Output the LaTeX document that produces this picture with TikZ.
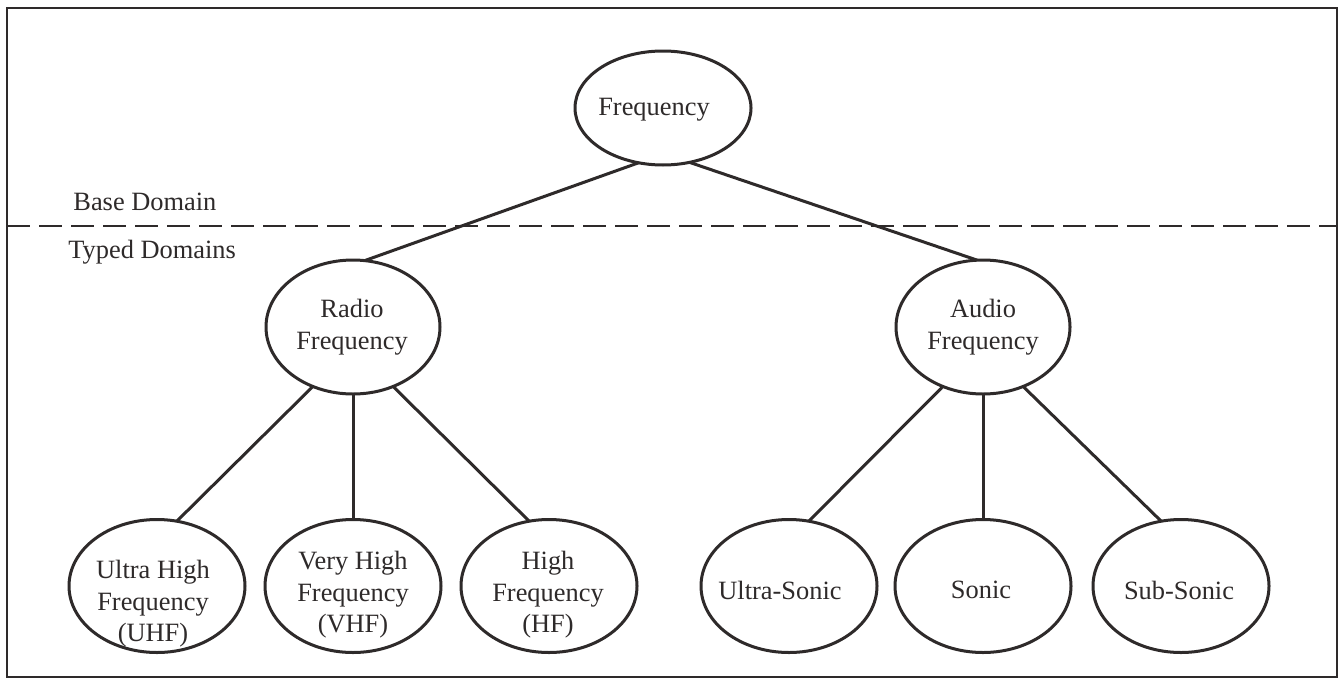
\documentclass[tikz,border=0pt]{standalone}
\usepackage{fontspec}
\setmainfont{Liberation Serif}
\usetikzlibrary{shapes.geometric}
\definecolor{ink}{HTML}{2E2A2A}
\begin{document}
\begin{tikzpicture}[x=0.5pt,y=-0.5pt,
  ell/.style={ellipse, draw=ink, line width=1.5pt, inner sep=0pt, outer sep=0pt,
              minimum width=88pt, minimum height=66.5pt},
  lbl/.style={inner sep=0pt, align=center, text=ink,
              font=\fontsize{13.2}{15.75}\selectfont},
  edge/.style={draw=ink, line width=1.5pt},
  frameline/.style={draw=ink, line width=1.1pt},
  sepline/.style={draw=ink, line width=1.4pt, dash pattern=on 11.5pt off 4.5pt}
]
\useasboundingbox (0,0) rectangle (1343,680);
\fill[white] (0,0) rectangle (1343,680);

% frame and separator
\draw[frameline] (7,8) rectangle (1337,677);
\coordinate (sepL) at (7,226);
\coordinate (sepR) at (1337,226);
\draw[sepline] (sepL) -- (sepR);

\node[lbl, anchor=west] (base) at (73,202) {Base Domain};
\node[lbl, anchor=west] (typed) at (68,252) {Typed Domains};

% ellipses
\node[ell, minimum width=88pt, minimum height=57pt] (freq) at (663,108) {};
\node[ell, minimum width=87pt, minimum height=67pt] (radio) at (353,327) {};
\node[ell, minimum width=87pt, minimum height=67pt] (audio) at (983,327) {};
\node[ell] (uhf) at (157,586) {};
\node[ell] (vhf) at (353,586) {};
\node[ell] (hf) at (549,586) {};
\node[ell] (us) at (789,586) {};
\node[ell] (so) at (983,586) {};
\node[ell] (ss) at (1181,586) {};

% texts
\node[lbl] (freqt) at (654,110) {Frequency};
\node[lbl] (radiot) at (352,327) {Radio\\Frequency};
\node[lbl] (audiot) at (983,327) {Audio\\Frequency};
\node[lbl] (uhft) at (153,604) {Ultra High\\Frequency\\(UHF)};
\node[lbl] (vhft) at (353,595) {Very High\\Frequency\\(VHF)};
\node[lbl] (hft) at (548,595) {High\\Frequency\\(HF)};
\node[lbl] (ust) at (780,590) {Ultra-Sonic};
\node[lbl] (sot) at (981,590) {Sonic};
\node[lbl] (sst) at (1179,590) {Sub-Sonic};

% connectors
\draw[edge] (freq.246) -- (radio.80);
\draw[edge] (freq.296) -- (audio.95);
\draw[edge] (radio.236) -- (uhf.73);
\draw[edge] (radio.270) -- (vhf.90);
\draw[edge] (radio.304) -- (hf.107);
\draw[edge] (audio.236) -- (us.73);
\draw[edge] (audio.270) -- (so.90);
\draw[edge] (audio.304) -- (ss.107);
\end{tikzpicture}
\end{document}
